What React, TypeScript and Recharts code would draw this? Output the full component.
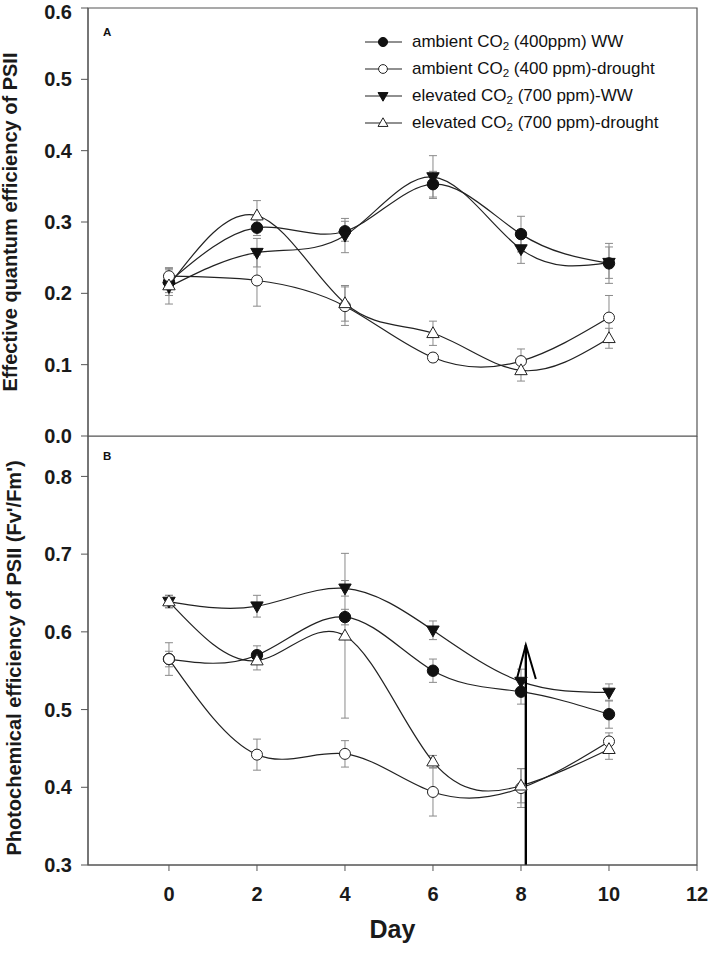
import React from 'react';
import {
  LineChart,
  Line,
  XAxis,
  YAxis,
  ErrorBar,
  ReferenceArea,
  ReferenceLine,
  Legend,
  Label,
} from 'recharts';

// days of measurement
const days = [0, 2, 4, 6, 8, 10];
const xTicks = [0, 2, 4, 6, 8, 10, 12];
const yTicksA = [0, 0.1, 0.2, 0.3, 0.4, 0.5, 0.6];
const yTicksB = [0.3, 0.4, 0.5, 0.6, 0.7, 0.8];

// panel A: effective quantum efficiency of PSII
const aAmbientWW = [0.216, 0.292, 0.287, 0.353, 0.283, 0.242];
const aAmbientWWErr = [0.019, 0.011, 0.014, 0.018, 0.025, 0.028];
const aAmbientDrought = [0.224, 0.218, 0.182, 0.11, 0.105, 0.166];
const aAmbientDroughtErr = [0.012, 0.036, 0.027, 0.006, 0.017, 0.031];
const aElevatedWW = [0.209, 0.257, 0.281, 0.363, 0.262, 0.243];
const aElevatedWWErr = [0.024, 0.02, 0.024, 0.03, 0.02, 0.022];
const aElevatedDrought = [0.211, 0.309, 0.186, 0.144, 0.092, 0.137];
const aElevatedDroughtErr = [0.01, 0.021, 0.025, 0.017, 0.015, 0.014];

// panel B: photochemical efficiency of PSII (Fv'/Fm')
const bAmbientWW = [0.565, 0.57, 0.619, 0.55, 0.523, 0.494];
const bAmbientWWErr = [0.01, 0.012, 0.01, 0.015, 0.016, 0.018];
const bAmbientDrought = [0.565, 0.442, 0.443, 0.394, 0.399, 0.459];
const bAmbientDroughtErr = [0.021, 0.02, 0.017, 0.031, 0.025, 0.011];
const bElevatedWW = [0.639, 0.633, 0.656, 0.602, 0.536, 0.522];
const bElevatedWWErr = [0.008, 0.014, 0.01, 0.012, 0.016, 0.011];
const bElevatedDrought = [0.639, 0.563, 0.595, 0.433, 0.402, 0.449];
const bElevatedDroughtErr = [0.008, 0.012, 0.106, 0.008, 0.022, 0.013];

const X_DOMAIN: [number, number] = [-1.84, 12];

const SERIES = [
  { key: 'aww', marker: 'filledCircle', pre: 'ambient CO', post: ' (400ppm) WW' },
  { key: 'ewW', marker: 'filledDown', pre: 'elevated CO', post: ' (700 ppm)-WW' },
  { key: 'adr', marker: 'openCircle', pre: 'ambient CO', post: ' (400 ppm)-drought' },
  { key: 'edr', marker: 'openUp', pre: 'elevated CO', post: ' (700 ppm)-drought' },
];
const LEGEND_ORDER = ['aww', 'adr', 'ewW', 'edr'];

const LINE = '#222222';
const AXIS = '#555555';
const FONT = '"Liberation Sans", Arial, sans-serif';

const buildRows = (aww: number[], awwE: number[], adr: number[], adrE: number[], eww: number[], ewwE: number[], edr: number[], edrE: number[]) =>
  days.map((d, i) => ({
    day: d,
    aww: aww[i],
    awwErr: awwE[i],
    adr: adr[i],
    adrErr: adrE[i],
    ewW: eww[i],
    ewWErr: ewwE[i],
    edr: edr[i],
    edrErr: edrE[i],
  }));

const dataA = buildRows(aAmbientWW, aAmbientWWErr, aAmbientDrought, aAmbientDroughtErr, aElevatedWW, aElevatedWWErr, aElevatedDrought, aElevatedDroughtErr);
const dataB = buildRows(bAmbientWW, bAmbientWWErr, bAmbientDrought, bAmbientDroughtErr, bElevatedWW, bElevatedWWErr, bElevatedDrought, bElevatedDroughtErr);

function Marker({ type, cx, cy, s = 1 }: { type: string; cx: number; cy: number; s?: number }) {
  if (type === 'filledCircle') return <circle cx={cx} cy={cy} r={5.7 * s} fill="#111" stroke="#111" />;
  if (type === 'openCircle') return <circle cx={cx} cy={cy} r={5.5 * s} fill="#fff" stroke={LINE} strokeWidth={1} />;
  if (type === 'filledDown')
    return (
      <polygon
        points={`${cx - 6.2 * s},${cy - 4.3 * s} ${cx + 6.2 * s},${cy - 4.3 * s} ${cx},${cy + 6.5 * s}`}
        fill="#111"
        stroke="#111"
      />
    );
  return (
    <polygon
      points={`${cx - 6.2 * s},${cy + 4.3 * s} ${cx + 6.2 * s},${cy + 4.3 * s} ${cx},${cy - 6.5 * s}`}
      fill="#fff"
      stroke={LINE}
      strokeWidth={1}
    />
  );
}

const dotFor = (type: string, key: string) => (props: any) => {
  if (props.cx == null || props.cy == null) return <g key={`${key}-${props.index}`} />;
  return <Marker key={`${key}-${props.index}`} type={type} cx={props.cx} cy={props.cy} />;
};

function LegendBox() {
  return (
    <div style={{ fontFamily: FONT, fontSize: 17, color: '#111' }}>
      {LEGEND_ORDER.map((k) => {
        const s = SERIES.find((x) => x.key === k)!;
        return (
          <div key={k} style={{ display: 'flex', alignItems: 'center', height: 27, whiteSpace: 'nowrap' }}>
            <svg width={37} height={16} style={{ marginRight: 10, overflow: 'visible' }}>
              <line x1={0} y1={8} x2={37} y2={8} stroke={LINE} strokeWidth={1.2} />
              <Marker type={s.marker} cx={18} cy={8} s={0.8} />
            </svg>
            <span>
              {s.pre}
              <sub style={{ fontSize: '0.68em', verticalAlign: '-0.3em', lineHeight: 0 }}>2</sub>
              {s.post}
            </span>
          </div>
        );
      })}
    </div>
  );
}

const tickStyle = { fontFamily: FONT, fontWeight: 700, fontSize: 20, fill: '#1a1a1a' };

const yLabel = (text: string, x: number, y: number) => () =>
  (
    <text
      x={x}
      y={y}
      transform={`rotate(-90, ${x}, ${y})`}
      textAnchor="middle"
      style={{ fontFamily: FONT, fontWeight: 700, fontSize: 20, fill: '#1a1a1a' }}
    >
      {text}
    </text>
  );

const panelLetter = (letter: string, dx: number, dy: number) => (props: any) => {
  const vb = props.viewBox;
  return (
    <text x={vb.x + dx} y={vb.y + dy} style={{ fontFamily: FONT, fontWeight: 700, fontSize: 11.5, fill: '#111' }}>
      {letter}
    </text>
  );
};

const arrowShape = (props: any) => {
  const tipY = Math.min(props.y1, props.y2);
  const baseY = Math.max(props.y1, props.y2);
  const x = props.x1;
  return (
    <g>
      <line x1={x} y1={baseY} x2={x} y2={tipY} stroke="#000" strokeWidth={2.4} />
      <polyline
        points={`${x - 9},${tipY + 34} ${x},${tipY} ${x + 10},${tipY + 34}`}
        fill="none"
        stroke="#000"
        strokeWidth={2}
      />
    </g>
  );
};

function renderLines() {
  return SERIES.map((s) => (
    <Line
      key={s.key}
      dataKey={s.key}
      name={s.pre + '2' + s.post}
      type="natural"
      stroke={LINE}
      strokeWidth={1.2}
      dot={dotFor(s.marker, s.key)}
      activeDot={false}
      isAnimationActive={false}
    >
      <ErrorBar dataKey={`${s.key}Err`} direction="y" width={4} stroke="#8a8a8a" strokeWidth={1} />
    </Line>
  ));
}

export default function App() {
  return (
    <div style={{ position: 'absolute', left: 0, top: 0, width: 708, height: 955, background: '#fff' }}>
      <div style={{ position: 'absolute', left: 0, top: 436 }}>
        <LineChart width={708} height={519} data={dataB} margin={{ top: 0, right: 11, left: 0, bottom: 0 }}>
          <XAxis
            type="number"
            dataKey="day"
            domain={X_DOMAIN}
            allowDataOverflow
            ticks={xTicks}
            height={90}
            tickSize={6}
            tickMargin={16}
            tick={tickStyle}
            stroke={AXIS}
          >
            <Label
              value="Day"
              position="insideBottom"
              offset={17}
              style={{ fontFamily: FONT, fontWeight: 700, fontSize: 25, fill: '#1a1a1a' }}
            />
          </XAxis>
          <YAxis
            type="number"
            domain={[0.3, 0.852]}
            ticks={yTicksB}
            allowDataOverflow
            tickFormatter={(v: number) => v.toFixed(1)}
            width={88}
            tickSize={7}
            tickMargin={9}
            tick={tickStyle}
            stroke={AXIS}
          >
            <Label content={yLabel("Photochemical efficiency of PSII (Fv'/Fm')", 21, 222)} />
          </YAxis>
          <ReferenceArea x1={X_DOMAIN[0]} x2={X_DOMAIN[1]} y1={0.3} y2={0.852} fill="none" stroke={AXIS} strokeWidth={1.2}>
            <Label content={panelLetter('B', 15, 24)} />
          </ReferenceArea>
          {renderLines()}
          <ReferenceLine
            segment={[
              { x: 8.11, y: 0.3 },
              { x: 8.11, y: 0.583 },
            ]}
            shape={arrowShape}
          />
        </LineChart>
      </div>
      <div style={{ position: 'absolute', left: 0, top: 0 }}>
        <LineChart width={708} height={452} data={dataA} margin={{ top: 8, right: 11, left: 0, bottom: 16 }}>
          <XAxis type="number" dataKey="day" domain={X_DOMAIN} allowDataOverflow hide />
          <YAxis
            type="number"
            domain={[0, 0.6]}
            ticks={yTicksA}
            allowDataOverflow
            tickFormatter={(v: number) => v.toFixed(1)}
            width={88}
            tickSize={7}
            tickMargin={9}
            tick={tickStyle}
            stroke={AXIS}
          >
            <Label content={yLabel('Effective quantum efficiency of PSII', 16.5, 222)} />
          </YAxis>
          <ReferenceArea x1={X_DOMAIN[0]} x2={X_DOMAIN[1]} y1={0} y2={0.6} fill="none" stroke={AXIS} strokeWidth={1.2}>
            <Label content={panelLetter('A', 15, 28)} />
          </ReferenceArea>
          {renderLines()}
          <Legend
            layout="vertical"
            align="center"
            verticalAlign="middle"
            wrapperStyle={{ left: 365, top: 28.5, width: 340 }}
            content={() => <LegendBox />}
          />
        </LineChart>
      </div>
    </div>
  );
}
